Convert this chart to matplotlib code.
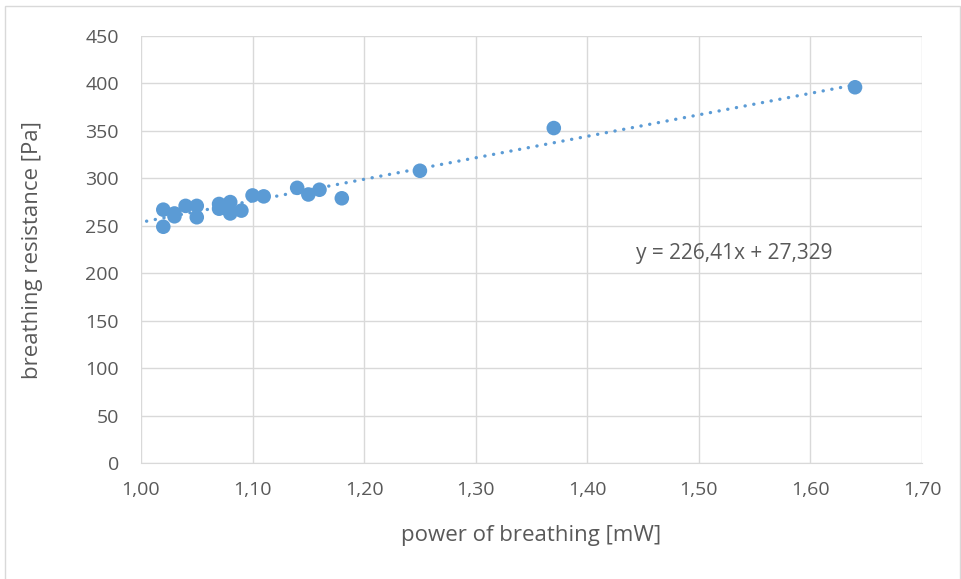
import numpy as np
import matplotlib.pyplot as plt
from matplotlib.patches import Rectangle

# donnees
power = [1.02, 1.02, 1.03, 1.03, 1.04, 1.05, 1.05, 1.07, 1.07, 1.08, 1.08, 1.08,
         1.09, 1.10, 1.11, 1.14, 1.15, 1.16, 1.18, 1.25, 1.37, 1.64]
resistance = [267, 249, 260, 263, 271, 271, 259, 273, 268, 275, 265, 263,
              266, 282, 281, 290, 283, 288, 279, 308, 353, 396]
slope, intercept = 226.41, 27.329
trend_x = [1.005, 1.64]

grey = "#595959"
blue = "#5B9BD5"

plt.rcParams['font.family'] = ['Open Sans', 'DejaVu Sans']

fig = plt.figure(figsize=(9.61, 5.79), dpi=100)
ax = fig.add_axes([0.1467, 0.2003, 0.8127, 0.7375])

tx = np.array(trend_x)
ax.plot(tx, slope * tx + intercept, color=blue, lw=2.4,
        linestyle=(0, (0.05, 2.6)), dash_capstyle='round', zorder=2)
ax.scatter(power, resistance, s=110, color=blue, edgecolors='none', zorder=3)

ax.set_xlim(1.0, 1.7)
ax.set_ylim(0, 450)
ax.set_xticks(np.arange(1.0, 1.701, 0.1))
ax.set_yticks(np.arange(0, 451, 50))
ax.set_xticklabels([f"{v:.2f}".replace('.', ',') for v in np.arange(1.0, 1.701, 0.1)])
ax.grid(True, color="#D9D9D9", lw=1.0)
ax.set_axisbelow(True)
for s in ['top', 'right', 'left']:
    ax.spines[s].set_visible(False)
ax.spines['bottom'].set_color("#D9D9D9")
ax.tick_params(length=0, labelsize=14, colors=grey)
ax.tick_params(axis='y', pad=16)
ax.tick_params(axis='x', pad=13)

ax.set_xlabel("power of breathing [mW]", fontsize=16, color=grey)
ax.set_ylabel("breathing resistance [Pa]", fontsize=16, color=grey)
ax.xaxis.set_label_coords((531 - 141) / 781, -(535 - 463) / 427)
ax.yaxis.set_label_coords(-(141 - 33) / 781, (463 - 250) / 427)
ax.xaxis.label.set_va('center')
ax.yaxis.label.set_va('center')

ax.text(1.4437, 221, "y = 226,41x + 27,329", fontsize=15, color=grey, va='center')

# cadre du graphique
fig.patches.append(Rectangle((5 / 961, -0.01), 0.999 - 5 / 961, 1 - 6 / 579 + 0.01,
                             transform=fig.transFigure, fill=False,
                             edgecolor="#D9D9D9", lw=1))

fig.savefig("out.png", dpi=100)
